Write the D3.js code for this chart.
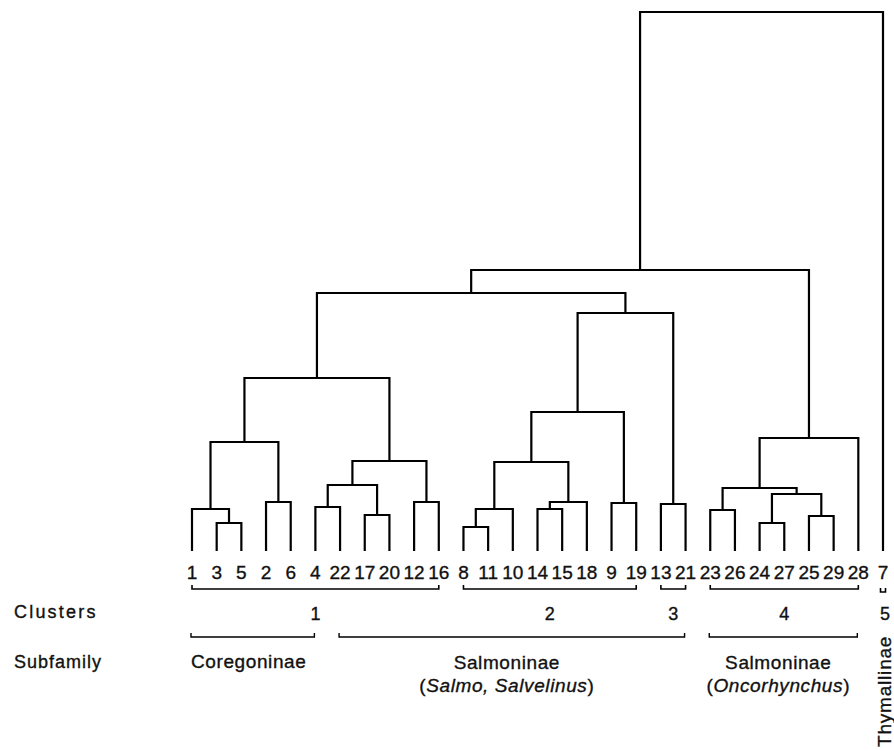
<!DOCTYPE html>
<html>
<head>
<meta charset="utf-8">
<script src="https://cdn.jsdelivr.net/npm/d3@7"></script>
<style>
  html, body { margin: 0; padding: 0; background: #fff; }
  svg { display: block; }
  text { font-family: "Liberation Sans", Arial, sans-serif; fill: #111; stroke: #111; stroke-width: 0.35; }
</style>
</head>
<body>
<svg id="chart" width="894" height="751"></svg>
<script>
// ---- data ----
const leafOrder = ["1","3","5","2","6","4","22","17","20","12","16","8","11","10","14","15","18","9","19","13","21","23","26","24","27","25","29","28","7"];

// linkage: [node id, left child, right child, merge height (dissimilarity)]
const merges = [
  ["n1","3","5",2.8],
  ["n2","1","n1",4.2],
  ["n3","2","6",4.9],
  ["n4","n2","n3",10.9],
  ["n5","4","22",4.4],
  ["n6","17","20",3.6],
  ["n7","n5","n6",6.6],
  ["n8","12","16",4.9],
  ["n9","n7","n8",9.0],
  ["n10","n4","n9",17.3],
  ["n11","8","11",2.4],
  ["n12","n11","10",4.2],
  ["n13","14","15",4.2],
  ["n14","n13","18",4.9],
  ["n15","n12","n14",8.9],
  ["n16","9","19",4.8],
  ["n17","n15","n16",13.9],
  ["n18","13","21",4.7],
  ["n19","n17","n18",23.8],
  ["n20","n10","n19",25.8],
  ["n21","23","26",4.1],
  ["n22","24","27",2.8],
  ["n23","25","29",3.5],
  ["n24","n22","n23",5.7],
  ["n25","n21","n24",6.3],
  ["n26","n25","28",11.3],
  ["n27","n20","n26",28.1],
  ["n28","n27","7",53.9]
];

const clusterLabels = ["1","2","3","4","5"];
const clusterFirst  = ["1","8","13","23","7"];
const clusterLast   = ["16","19","21","28","7"];

const subfamilyNames   = ["Coregoninae","Salmoninae","Salmoninae"];
const subfamilyGenera  = ["", "Salmo, Salvelinus", "Oncorhynchus"];
const subfamilyFirst   = ["1","22","23"];
const subfamilyLast    = ["4","21","28"];
const singleSubfamily  = { name: "Thymallinae", leaf: "7" };

// ---- build hierarchy ----
const nodes = {};
leafOrder.forEach(l => nodes[l] = { name: l, height: 0 });
merges.forEach(([id, a, b, h]) => { nodes[id] = { name: id, height: h, children: [nodes[a], nodes[b]] }; });
const root = d3.hierarchy(nodes[merges[merges.length - 1][0]]);

const x = d3.scalePoint().domain(leafOrder).range([192, 883]);
const y = d3.scaleLinear().domain([0, d3.max(merges, m => m[3])]).range([551, 12]);

root.eachAfter(n => {
  n.px = n.children ? d3.mean(n.children, c => c.px) : x(n.data.name);
  n.py = y(n.data.height);
});

const svg = d3.select("#chart");
const g = svg.append("g");

// links (elbows)
g.selectAll("path.link")
  .data(root.descendants().filter(n => n.children))
  .join("path")
  .attr("class", "link")
  .attr("fill", "none")
  .attr("stroke", "#000")
  .attr("stroke-width", 2.2)
  .attr("stroke-linejoin", "miter")
  .attr("d", n => {
    const [a, b] = n.children;
    return `M${a.px},${a.py}V${n.py}H${b.px}V${b.py}`;
  });

// leaf labels
g.selectAll("text.leaf")
  .data(root.leaves())
  .join("text")
  .attr("class", "leaf")
  .attr("x", n => n.px)
  .attr("y", 579)
  .attr("text-anchor", "middle")
  .attr("font-size", 19)
  .text(n => n.data.name);

// bracket helper
function bracket(x0, x1, yy) {
  return `M${x0},${yy - 4}V${yy}H${x1}V${yy - 4}`;
}

// clusters row
svg.append("text").attr("x", 14).attr("y", 618).attr("font-size", 18)
  .attr("letter-spacing", 2.2).text("Clusters");

clusterLabels.forEach((lab, i) => {
  const single = clusterFirst[i] === clusterLast[i];
  const x0 = x(clusterFirst[i]) - (single ? 2.5 : 0);
  const x1 = x(clusterLast[i]) + (single ? 2.5 : 0);
  svg.append("path").attr("d", bracket(x0, x1, single ? 592 : 589))
    .attr("fill", "none").attr("stroke", "#000").attr("stroke-width", 1.6);
  svg.append("text").attr("x", (x0 + x1) / 2 + (single ? 2 : 0)).attr("y", 620)
    .attr("text-anchor", "middle").attr("font-size", 18).text(lab);
});

// subfamily row
svg.append("text").attr("x", 14).attr("y", 668).attr("font-size", 18)
  .attr("letter-spacing", 1).text("Subfamily");

subfamilyNames.forEach((name, i) => {
  const x0 = x(subfamilyFirst[i]) - 1, x1 = x(subfamilyLast[i]) - 1;
  svg.append("path").attr("d", bracket(x0, x1, 637))
    .attr("fill", "none").attr("stroke", "#000").attr("stroke-width", 1.4);
  const cx = (x0 + x1) / 2;
  if (i === 0) {
    svg.append("text").attr("x", x0).attr("y", 668).attr("font-size", 19)
      .attr("letter-spacing", 0.6).text(name);
  } else {
    svg.append("text").attr("x", cx - 5).attr("y", 669).attr("text-anchor", "middle")
      .attr("font-size", 19).attr("letter-spacing", 0.6).text(name);
    const t = svg.append("text").attr("x", cx - 5).attr("y", 692).attr("text-anchor", "middle")
      .attr("font-size", 19).attr("letter-spacing", 0.6);
    t.append("tspan").text("(");
    t.append("tspan").attr("font-style", "italic").text(subfamilyGenera[i]);
    t.append("tspan").text(")");
  }
});

svg.append("text")
  .attr("transform", `translate(${x(singleSubfamily.leaf) + 8},747) rotate(-90)`)
  .attr("font-size", 19).attr("letter-spacing", 0.8)
  .text(singleSubfamily.name);
</script>
</body>
</html>
